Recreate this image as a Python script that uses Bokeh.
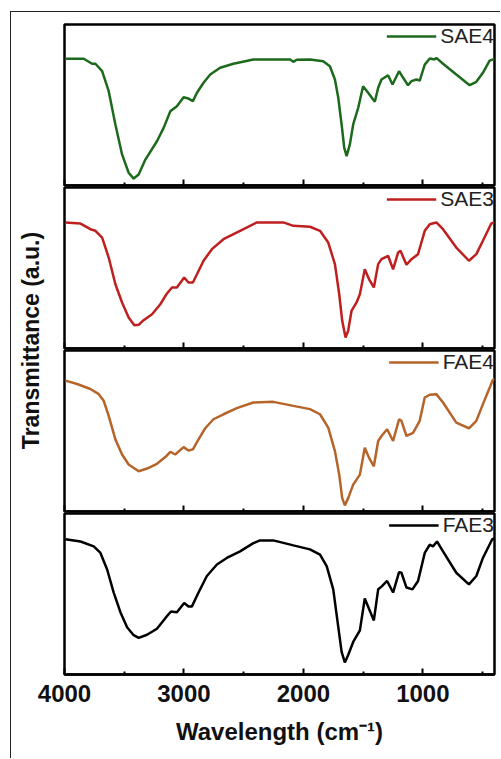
import math
from bokeh.plotting import figure
from bokeh.models import Range1d, FixedTicker, Legend, LegendItem
from bokeh.layouts import column, row
from bokeh.embed import file_html
from bokeh.resources import INLINE
from bokeh.core.properties import value

# ---- data (wavenumber cm-1, transmittance a.u., each panel scaled 0-100) ----
wn_sae4 = [3992, 3839, 3769, 3741, 3685, 3630, 3574, 3518, 3463, 3421, 3379, 3323,
           3226, 3170, 3114, 3059, 3003, 2962, 2925, 2891, 2836, 2780, 2697, 2586,
           2419, 2112, 2084, 2056, 1945, 1834, 1778, 1736, 1708, 1680, 1658, 1638,
           1611, 1583, 1541, 1500, 1458, 1402, 1374, 1346, 1291, 1254, 1226, 1199,
           1165, 1124, 1095, 1054, 1026, 984, 942, 901, 887, 831, 720, 608, 552,
           497, 441, 400]
t_sae4 = [78.7, 78.7, 75.6, 75.6, 71.0, 58.6, 37.9, 19.3, 7.9, 4.3, 6.8, 16.1,
          27.5, 35.8, 46.1, 49.2, 54.8, 54.0, 52.4, 57.6, 63.8, 68.9, 73.1, 75.6,
          78.3, 78.3, 76.8, 78.1, 78.3, 77.2, 74.1, 65.8, 54.5, 37.9, 23.4, 18.2,
          25.5, 37.9, 48.3, 61.7, 57.6, 52.0, 60.7, 65.8, 68.5, 62.7, 66.9, 71.0,
          66.9, 62.3, 64.8, 65.8, 65.2, 75.1, 78.9, 78.3, 79.3, 75.6, 68.9, 62.3,
          64.4, 70.0, 77.6, 78.6]

wn_sae3 = [3992, 3866, 3783, 3741, 3685, 3630, 3574, 3518, 3463, 3415, 3379, 3338,
           3267, 3198, 3142, 3100, 3059, 2998, 2962, 2925, 2891, 2836, 2766, 2669,
           2530, 2390, 2168, 2084, 1945, 1861, 1792, 1736, 1700, 1675, 1647, 1625,
           1597, 1555, 1527, 1486, 1450, 1410, 1374, 1346, 1291, 1249, 1207, 1187,
           1137, 1095, 1040, 984, 942, 887, 831, 720, 614, 552, 497, 427, 400]
t_sae3 = [78.3, 77.6, 74.1, 73.1, 68.9, 56.5, 39.9, 28.6, 19.3, 14.5, 14.7, 17.6,
          21.3, 27.5, 34.2, 37.9, 37.9, 44.1, 41.0, 41.0, 46.1, 54.5, 61.7, 67.9,
          73.1, 78.3, 78.3, 76.2, 75.6, 73.1, 65.8, 52.4, 33.7, 17.2, 6.8, 11.0,
          23.4, 28.6, 33.7, 49.2, 43.0, 37.9, 52.4, 55.5, 57.6, 49.2, 59.6, 60.7,
          52.0, 55.5, 58.6, 73.1, 77.2, 78.3, 74.1, 62.7, 54.5, 58.6, 66.9, 77.6, 78.5]

wn_fae4 = [3992, 3894, 3783, 3713, 3672, 3630, 3574, 3518, 3463, 3379, 3309, 3226,
           3156, 3114, 3073, 3003, 2962, 2925, 2878, 2822, 2753, 2669, 2557, 2419,
           2252, 2084, 1945, 1861, 1792, 1736, 1700, 1675, 1653, 1625, 1583, 1527,
           1486, 1450, 1410, 1374, 1346, 1299, 1249, 1199, 1179, 1137, 1082, 1026,
           984, 942, 887, 831, 720, 614, 552, 497, 414, 400]
t_fae4 = [81.3, 79.2, 76.1, 72.9, 68.8, 59.4, 44.8, 35.4, 29.2, 25.0, 26.7, 29.6,
          33.8, 37.1, 35.4, 40.0, 37.9, 38.6, 44.8, 51.7, 57.3, 60.4, 64.2, 67.7,
          68.1, 65.6, 63.6, 60.4, 52.1, 37.5, 22.9, 8.3, 3.8, 8.3, 16.7, 22.9,
          39.6, 33.3, 28.1, 43.8, 46.9, 51.1, 43.8, 57.3, 56.3, 46.9, 48.9, 56.3,
          70.8, 72.5, 72.9, 67.7, 55.2, 51.7, 56.3, 66.7, 81.7, 82.5]

wn_fae3 = [3992, 3866, 3755, 3699, 3643, 3588, 3532, 3476, 3421, 3379, 3309, 3226,
           3156, 3109, 3059, 2998, 2962, 2933, 2878, 2808, 2724, 2641, 2530, 2419,
           2363, 2252, 2084, 1945, 1861, 1805, 1750, 1717, 1680, 1653, 1625, 1583,
           1527, 1486, 1450, 1410, 1374, 1346, 1299, 1249, 1199, 1179, 1137, 1087,
           1040, 984, 942, 915, 881, 831, 720, 614, 552, 497, 419, 400]
t_fae3 = [84.0, 82.6, 79.6, 75.5, 65.2, 50.9, 38.7, 29.4, 24.4, 22.7, 24.7, 28.4,
          35.0, 39.1, 38.7, 44.4, 42.3, 42.3, 50.9, 61.2, 68.3, 72.4, 76.5, 81.6,
          83.3, 83.3, 80.2, 77.7, 74.4, 67.3, 52.9, 34.5, 14.1, 7.5, 12.1, 20.2,
          27.4, 47.2, 40.7, 33.6, 52.9, 54.6, 58.1, 50.9, 63.6, 63.2, 54.0, 52.9,
          58.1, 75.5, 80.6, 79.6, 82.6, 76.5, 63.2, 56.0, 61.2, 72.4, 84.0, 84.5]

names = ["SAE4", "SAE3", "FAE4", "FAE3"]
colors = ["#1d6a1d", "#bf1f1f", "#b5642a", "#000000"]
major_ticks = [4000, 3000, 2000, 1000]
minor_ticks = [3500, 2500, 1500, 500]
x_label = "Wavelength (cm\u207b\u00b9)"
y_label = "Transmittance (a.u.)"

FONT = "Liberation Sans"
series = [(wn_sae4, t_sae4), (wn_sae3, t_sae3), (wn_fae4, t_fae4), (wn_fae3, t_fae3)]

xr = Range1d(4000, 400)
FRAME_H = 161
GAP = 2
TOP = 12
BOTTOM = 84
LAB_W = 45
LEFT = 8
RIGHT = 6
FRAME_W = 430
figs = []
for i, ((wn, t), name, color) in enumerate(zip(series, names, colors)):
    first = (i == 0)
    last = (i == len(series) - 1)
    top = TOP if first else 0
    bottom = BOTTOM if last else GAP
    left = LAB_W + LEFT if last else LEFT
    p = figure(width=left + FRAME_W + RIGHT, height=top + FRAME_H + bottom,
               x_range=xr, y_range=Range1d(0, 100), output_backend="svg",
               toolbar_location=None, min_border_left=left, min_border_right=RIGHT,
               min_border_top=top, min_border_bottom=bottom)
    r = p.line(wn, t, line_color=color, line_width=2.5)
    p.grid.visible = False
    p.yaxis.visible = False
    p.outline_line_color = "black"
    p.outline_line_width = 2.5
    p.background_fill_color = "white"
    p.border_fill_color = "white"
    ax = p.xaxis[0]
    ax.ticker = FixedTicker(ticks=major_ticks, minor_ticks=minor_ticks)
    ax.axis_line_color = "black"
    ax.axis_line_width = 2.5
    ax.major_tick_in = 6
    ax.major_tick_out = 0
    ax.minor_tick_in = 3
    ax.minor_tick_out = 0
    ax.major_tick_line_width = 2
    ax.minor_tick_line_width = 2
    ax.major_tick_line_color = "black"
    ax.minor_tick_line_color = "black"
    if last:
        ax.major_label_text_font = FONT
        ax.major_label_text_font_size = "24px"
        ax.major_label_text_font_style = "bold"
        ax.major_label_text_color = "#111111"
        ax.major_label_standoff = 10
        ax.axis_label = x_label
        ax.axis_label_text_font = FONT
        ax.axis_label_text_font_size = "24px"
        ax.axis_label_text_font_style = "bold"
        ax.axis_label_text_color = "#111111"
        ax.axis_label_standoff = 13
    else:
        ax.major_label_text_font_size = "0px"
        ax.major_label_text_color = None
        ax.major_label_standoff = 0
    legend = Legend(items=[LegendItem(label=name, renderers=[r])],
                    location="top_right", margin=0, padding=2,
                    label_standoff=4, glyph_width=50, glyph_height=20,
                    label_text_font=FONT, label_text_font_size="21px",
                    label_text_color="#222222",
                    background_fill_alpha=0, border_line_color=None)
    p.add_layout(legend)
    figs.append(p)

lab_h = TOP + 3 * FRAME_H + 3 * GAP
lab = figure(width=LAB_W, height=lab_h, x_range=Range1d(0, LAB_W),
             y_range=Range1d(0, lab_h), output_backend="svg",
             toolbar_location=None, min_border=0)
lab.axis.visible = False
lab.grid.visible = False
lab.outline_line_color = None
lab.text(x=[19], y=[lab_h - 328], text=[y_label], angle=math.pi / 2,
         text_align="center", text_baseline="middle",
         text_font=value(FONT), text_font_size="23px", text_font_style="bold",
         text_color="#111111")

upper = row(lab, column(figs[0], figs[1], figs[2], spacing=0), spacing=0)
layout = column(upper, figs[3], spacing=0, margin=(11, 0, 0, 10),
                styles={"border-left": "1px solid #222", "border-top": "1px solid #222"})

open("out.html", "w").write(file_html(layout, INLINE))
